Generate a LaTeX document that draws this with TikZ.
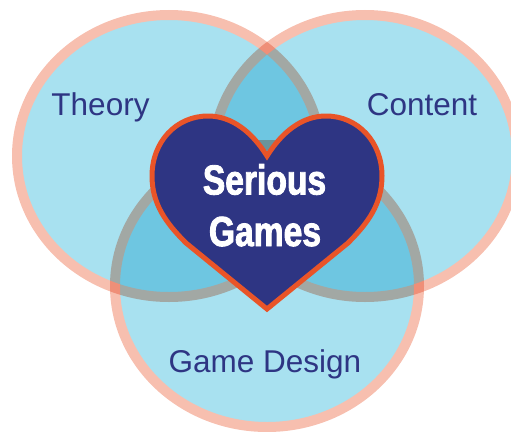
\documentclass[tikz,border=0pt]{standalone}
\usepackage{fontspec}
\setmainfont{Liberation Sans}
\newfontfamily\heavyfont[FakeStretch=0.8,FakeBold=2]{Liberation Sans Bold}
\usepackage{tikz}
\usetikzlibrary{positioning}
\definecolor{lightsky}{RGB}{168,225,240}
\definecolor{ringpink}{RGB}{247,191,175}
\definecolor{navy}{RGB}{46,53,131}
\definecolor{heartedge}{RGB}{233,84,40}
\tikzset{
ring/.style={
  draw=ringpink,
  fill=lightsky,
  line width=10pt
  },
heart/.style={
  draw=heartedge,
  fill=navy,
  line width=5pt
  },
lbl/.style={
  text=navy,
  font=\fontsize{31.5}{36}\selectfont,
  anchor=base,
  inner sep=0pt
  },
sg/.style={
  text=white,
  font=\heavyfont\fontsize{42}{50}\selectfont,
  anchor=base,
  inner sep=0pt
  }
}

\begin{document}
\begin{tikzpicture}[x=1pt,y=-1pt]
            \useasboundingbox (0,0) rectangle (511,431);
            \coordinate (l) at (169,156);
            \coordinate (r) at (365,156);
            \coordinate (b) at (267,286);
            % the three sets, multiplied over each other
            \foreach \p in {l,r,b}{
                \begin{scope}[blend mode=multiply]
                    \begin{scope}[transparency group]
                        \draw[ring] (\p) ellipse [x radius=152,y radius=141];
                    \end{scope}
                \end{scope}
            }
            % heart
            \draw[heart] (267,156) .. controls (252,132) and (232,116) .. (208,116)
                .. controls (176,116) and (152,142) .. (152,176)
                .. controls (152,204) and (166,223) .. (186,243)
                -- (267,309) -- (348,243)
                .. controls (368,223) and (382,204) .. (382,176)
                .. controls (382,142) and (358,116) .. (326,116)
                .. controls (302,116) and (282,132) .. (267,156) -- cycle;
            \node[lbl] (theory) at (100.5,115) {Theory};
            \node[lbl] (content) at (422,115) {Content};
            \node[lbl] (design) at (265,372) {Game Design};
            \node[sg] (serious) at (264.5,194.5) {Serious};
            \node[sg] (games) at (265,246) {Games};
        \end{tikzpicture}
\end{document}
